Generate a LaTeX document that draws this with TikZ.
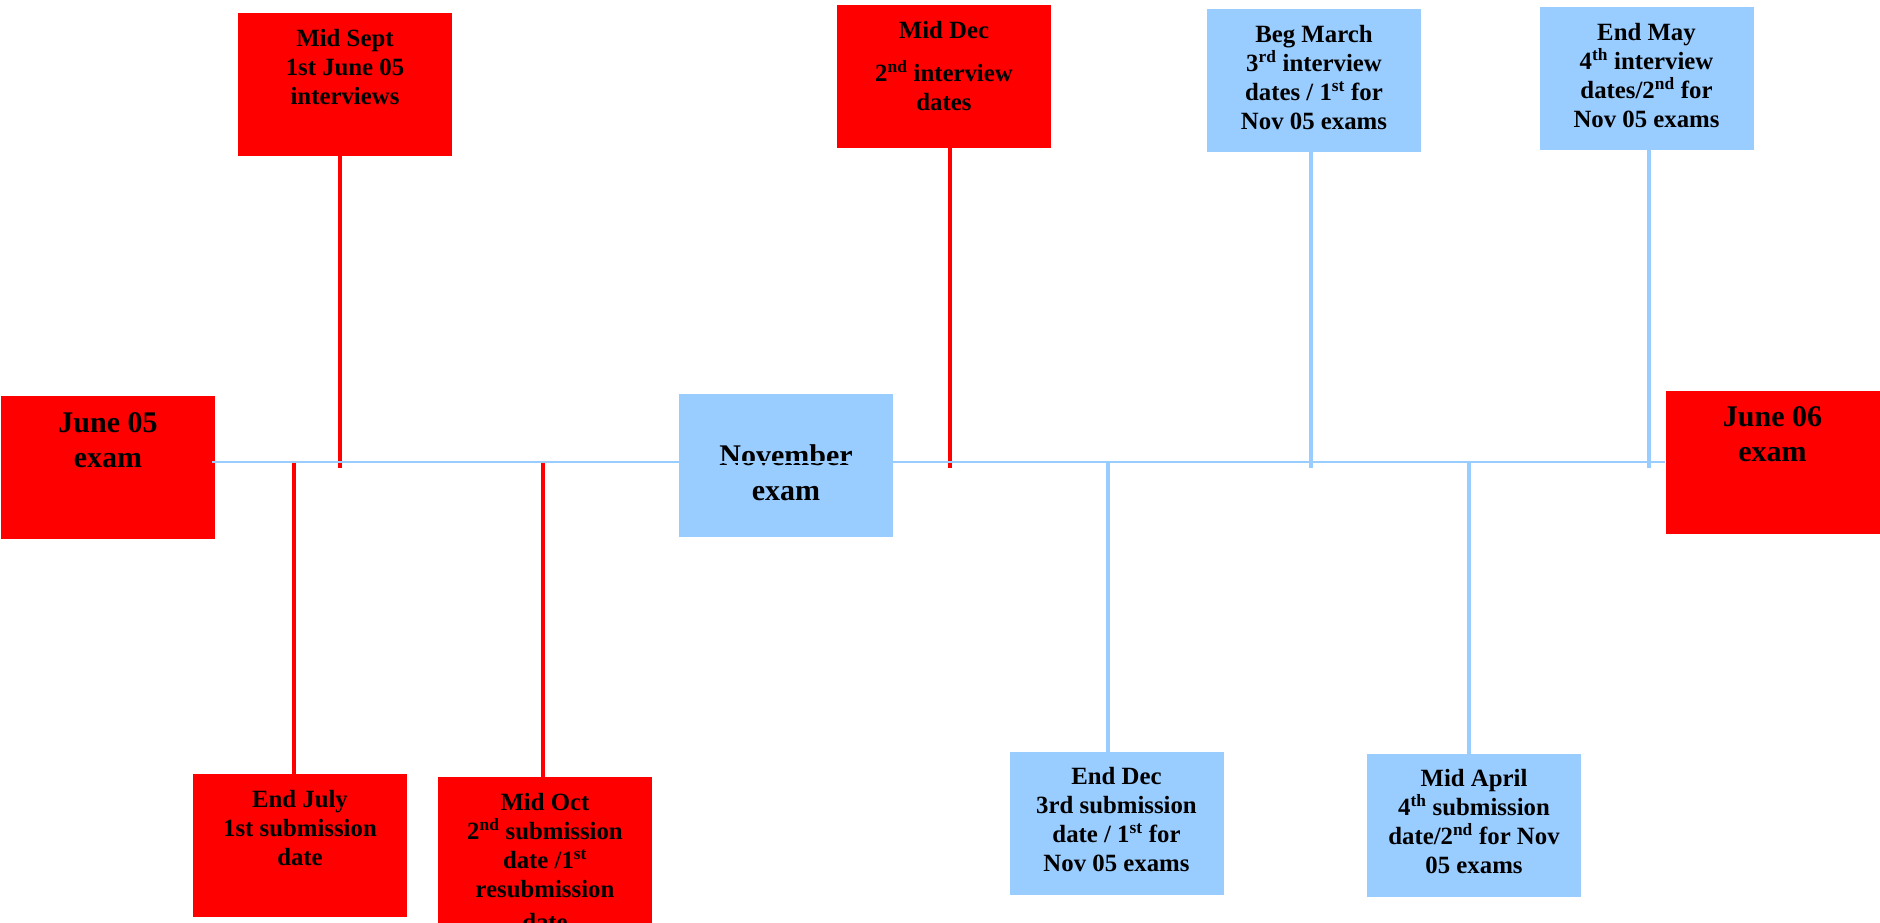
\documentclass[tikz,border=0pt]{standalone}
\usepackage{fontspec}
\setmainfont{Liberation Serif}
\definecolor{skyb}{HTML}{99CCFF}
\definecolor{pred}{HTML}{FF0000}
\newcommand\smtxt[3][143pt]{\parbox[c][#1][t]{214pt}{\centering\fontsize{24.8}{29}\selectfont\bfseries\vspace*{#2}#3\par}}
\newcommand\bgtxt[2]{\parbox[c][143pt][t]{214pt}{\centering\fontsize{30}{35}\selectfont\bfseries\vspace*{#1}#2\par}}
\tikzset{
  redbox/.style={fill=pred, draw=none, inner sep=0pt, outer sep=0pt},
  bluebox/.style={fill=skyb, draw=none, inner sep=0pt, outer sep=0pt},
  redline/.style={draw=pred, line width=4.8pt},
  blueline/.style={draw=skyb, line width=4.5pt},
  tline/.style={draw=skyb, line width=2pt},
}
\begin{document}
\begin{tikzpicture}[x=1pt,y=-1pt]
\useasboundingbox (0,0) rectangle (1880,923);
\begin{scope}
\clip (0,0) rectangle (1880,923);
% boxes
\node[redbox] (june05) at (108,467.5) {\bgtxt{17pt}{June 05\\exam}};
\node[redbox] (sept) at (345,84.5) {\smtxt{16pt}{Mid Sept\\1st June 05\\interviews}};
\node[bluebox] (nov) at (786,465.5) {\bgtxt{51pt}{November\\exam}};
\node[redbox] (dec) at (944,76.5) {\smtxt{16pt}{Mid Dec\\[14pt]2\textsuperscript{nd} interview\\dates}};
\node[bluebox] (march) at (1314,80.5) {\smtxt{16pt}{Beg March\\3\textsuperscript{rd} interview\\dates / 1\textsuperscript{st} for\\Nov 05 exams}};
\node[bluebox] (may) at (1646.5,78.5) {\smtxt{16pt}{End May\\4\textsuperscript{th} interview\\dates/2\textsuperscript{nd} for\\Nov 05 exams}};
\node[redbox] (june06) at (1772.5,462.5) {\bgtxt{16pt}{June 06\\exam}};
\node[redbox] (july) at (300,845.5) {\smtxt{16pt}{End July\\1st submission\\date}};
\node[redbox, anchor=north] (oct) at (545,777) {\smtxt[180pt]{16pt}{Mid Oct\\2\textsuperscript{nd} submission\\date /1\textsuperscript{st}\\resubmission\\[4pt]date}};
\node[bluebox] (enddec) at (1116.5,823) {\smtxt{16pt}{End Dec\\3rd submission\\date / 1\textsuperscript{st} for\\Nov 05 exams}};
\node[bluebox] (april) at (1474,825) {\smtxt{16pt}{Mid April\\4\textsuperscript{th} submission\\date/2\textsuperscript{nd} for Nov\\05 exams}};
% coordinates on the time line
\coordinate (tlL) at (212,462);
\coordinate (tlR) at (1665,462);
\coordinate (pSept) at (340,468);
\coordinate (pJuly) at (294,462);
\coordinate (pOct) at (543,462);
\coordinate (pDec) at (950,468);
\coordinate (pEndDec) at (1108,462);
\coordinate (pMarch) at (1311,468);
\coordinate (pApril) at (1469,462);
\coordinate (pMay) at (1649,468);
% connectors
\draw[redline] (sept.south -| pSept) -- (pSept);
\draw[redline] (pJuly) -- (july.north -| pJuly);
\draw[redline] (pOct) -- (oct.north -| pOct);
\draw[redline] (dec.south -| pDec) -- (pDec);
\draw[blueline] (pEndDec) -- (enddec.north -| pEndDec);
\draw[blueline] (march.south -| pMarch) -- (pMarch);
\draw[blueline] (pApril) -- (april.north -| pApril);
\draw[blueline] (may.south -| pMay) -- (pMay);
% time line
\draw[tline] (tlL) -- (tlR);
\end{scope}
\end{tikzpicture}
\end{document}
